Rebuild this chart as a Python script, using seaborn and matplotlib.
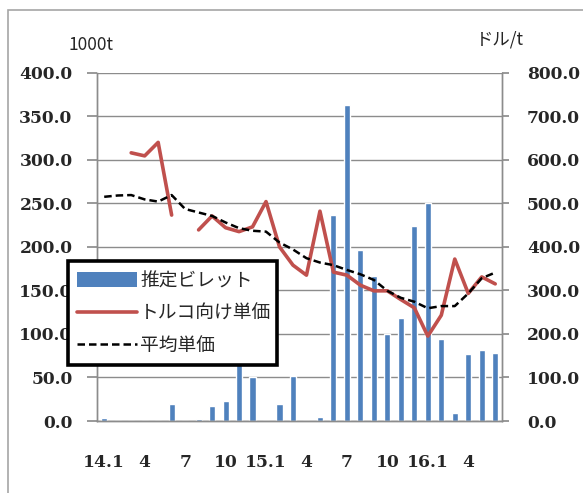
import numpy as np
import pandas as pd
import matplotlib
matplotlib.use("Agg")
import matplotlib.pyplot as plt
from matplotlib.patches import Rectangle, Patch
from matplotlib.lines import Line2D
import seaborn as sns

# Monthly series, 2014.1 - 2016.6
months = [f"{y}.{m}" for y in (14, 15, 16) for m in range(1, 13)][:30]
tick_labels = ["14.1", "4", "7", "10", "15.1", "4", "7", "10", "16.1", "4"]

# Estimated billet volume (1000t)
billet = [3, 0, 0, 0, 0, 19, 0, 2, 17.5, 23.5, 75, 50,
          0, 20, 52, 0, 5, 236.5, 363.5, 196, 166, 100, 118, 224,
          250, 94, 9.5, 77, 81.5, 78.5]

# Unit price for Turkey (USD/t); NaN where no shipment
turkey_price = [np.nan, np.nan, 616, 609, 640, 473, np.nan, 439, 471, 444, 435, 446,
                504, 400, 358, 335, 482, 342, 335, 312, 299, 299, 279, 260,
                195, 243, 372, 293, 331, 315]

# Average unit price (USD/t)
avg_price = [515, 518, 519, 509, 504, 519, 487, 479, 471, 456, 443, 437,
             435, 410, 394, 374, 364, 358, 347, 337, 324, 299, 283, 274,
             259, 264, 264, 293, 328, 341]

sns.set_theme(style="white")
plt.rcParams["font.family"] = ["Noto Sans CJK JP", "DejaVu Sans"]

BLUE = "#4F81BD"
RED = "#C0504D"
GRAY = "#8C8C8C"
CJK = ["Noto Sans CJK JP", "DejaVu Sans"]

fig = plt.figure(figsize=(5.83, 4.93), dpi=100)
ax = fig.add_axes([0.1672, 0.146, 0.6938, 0.7065])

df = pd.DataFrame({"month": months, "billet": billet,
                   "turkey": turkey_price, "avg": avg_price})
df["x"] = np.arange(len(df))

sns.barplot(data=df, x="month", y="billet", color=BLUE, saturation=1,
            width=0.45, ax=ax, zorder=2)
ax.set_ylim(0, 400)
ax.set_yticks(np.arange(0, 401, 50))
ax.set_yticklabels([f"{v:.1f}" for v in np.arange(0, 401, 50)])
ax.yaxis.grid(True, color=GRAY, lw=1)
ax.set_axisbelow(True)
ax.set_xlim(-0.5, len(df) - 0.5)

ax2 = ax.twinx()
# Break the Turkey line where a month is missing
seg = df["turkey"].isna().cumsum()
tdf = df.assign(seg=seg).dropna(subset=["turkey"])
sns.lineplot(data=tdf, x="x", y="turkey", units="seg", estimator=None,
             color=RED, lw=2.6, ax=ax2, zorder=3)
sns.lineplot(data=df, x="x", y="avg", color="black", lw=1.8,
             linestyle=(0, (3, 1.6)), ax=ax2, zorder=4)
ax2.set_ylim(0, 800)
ax2.set_yticks(np.arange(0, 801, 100))
ax2.set_yticklabels([f"{v:.1f}" for v in np.arange(0, 801, 100)])
ax2.set_xlim(-0.5, len(df) - 0.5)

for a in (ax, ax2):
    a.set_xlabel("")
    a.set_ylabel("")
    a.spines["top"].set_visible(False)
    for s in ("left", "right", "bottom"):
        a.spines[s].set_color(GRAY)
        a.spines[s].set_linewidth(1)

ax.set_xticks(np.arange(0, len(df), 3))
ax.set_xticklabels(tick_labels)
ax.set_xticks(np.arange(-0.5, len(df), 1), minor=True)
ax.tick_params(axis="x", which="major", length=0, pad=24)
ax.tick_params(axis="x", which="minor", length=7, color=GRAY, direction="out")
ax.tick_params(axis="y", length=7, color=GRAY, pad=11, direction="out")
ax2.tick_params(axis="y", length=5, color=GRAY, pad=13, direction="out")

for lab in ax.get_xticklabels() + ax.get_yticklabels() + ax2.get_yticklabels():
    lab.set_fontfamily("DejaVu Serif")
    lab.set_fontweight("bold")
    lab.set_fontsize(12.3)

fig.text(68 / 583, 1 - 45 / 493, "1000t", fontsize=12.5, va="center", ha="left",
         family=CJK)
fig.text(476 / 583, 1 - 40 / 493, "ドル/t", fontsize=12.5, va="center", ha="left",
         family=CJK)

# Outer chart border (left and top edges visible)
fig.patches.append(Rectangle((8 / 583, -0.1), 1.2, 1 - 10 / 493 + 0.1,
                             transform=fig.transFigure, fill=False,
                             edgecolor="#A6A6A6", lw=1.2))

handles = [Patch(facecolor=BLUE, edgecolor="none"),
           Line2D([], [], color=RED, lw=2.6),
           Line2D([], [], color="black", lw=1.8, linestyle=(0, (3, 1.6)))]
labels = ["推定ビレット", "トルコ向け単価", "平均単価"]
leg = fig.legend(handles, labels, loc="lower left",
                 bbox_to_anchor=(68 / 583, 1 - 365 / 493, 209 / 583, 105 / 493),
                 mode="expand", borderaxespad=0, fancybox=False,
                 framealpha=1, edgecolor="black",
                 handlelength=3.2, handleheight=0.8, handletextpad=0.15,
                 labelspacing=0.6, borderpad=0.5,
                 prop={"family": CJK, "size": 13.5})
leg.get_frame().set_linewidth(2.6)

fig.savefig("out.png", dpi=100)
